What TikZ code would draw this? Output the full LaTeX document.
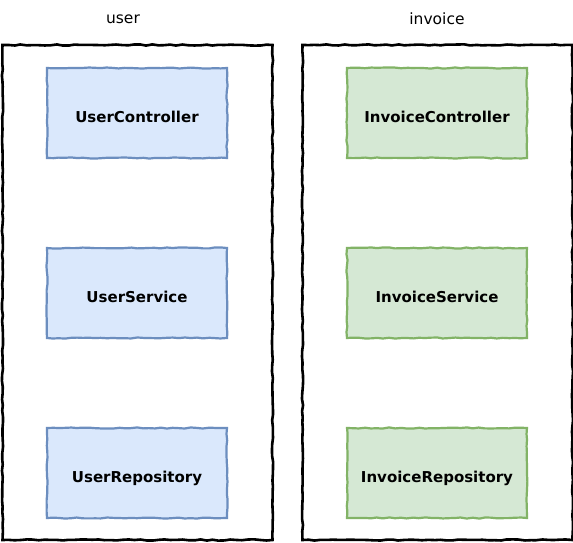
\documentclass[tikz,border=0pt]{standalone}
\usepackage{fontspec}
\setmainfont{DejaVu Sans}
\usetikzlibrary{decorations.pathmorphing}
\definecolor{bfill}{HTML}{DAE8FC}
\definecolor{bline}{HTML}{6C8EBF}
\definecolor{gfill}{HTML}{D5E8D4}
\definecolor{gline}{HTML}{82B366}
\begin{document}
\begin{tikzpicture}[x=1pt,y=-1pt,
  sketch/.style={decorate,decoration={random steps,segment length=6pt,amplitude=0.6pt}},
  container/.style={draw=black,line width=2.6pt,fill=white,sketch},
  inner/.style={line width=2.2pt,minimum width=180pt,minimum height=90pt,font=\bfseries\fontsize{15}{17}\selectfont,inner sep=0pt,text height=18pt,text depth=0pt,sketch},
  bluebox/.style={inner,draw=bline,fill=bfill},
  greenbox/.style={inner,draw=gline,fill=gfill},
  title/.style={font=\fontsize{15.5}{18}\selectfont}]
\pgfmathsetseed{7}
\useasboundingbox (0,0) rectangle (573,543);
\node[container,minimum width=270pt,minimum height=495pt,inner sep=0pt] (ucont) at (137.5,292.5) {};
\node[container,minimum width=270pt,minimum height=495pt,inner sep=0pt] (icont) at (437.5,292.5) {};
\node[title] (ulabel) at (123,19) {user};
\node[title] (ilabel) at (437,19) {invoice};
\node[bluebox] (uc) at (137,113) {UserController};
\node[bluebox] (us) at (137,293) {UserService};
\node[bluebox] (ur) at (137,473) {UserRepository};
\node[greenbox] (ic) at (437,113) {InvoiceController};
\node[greenbox] (is) at (437,293) {InvoiceService};
\node[greenbox] (ir) at (437,473) {InvoiceRepository};
\end{tikzpicture}
\end{document}
